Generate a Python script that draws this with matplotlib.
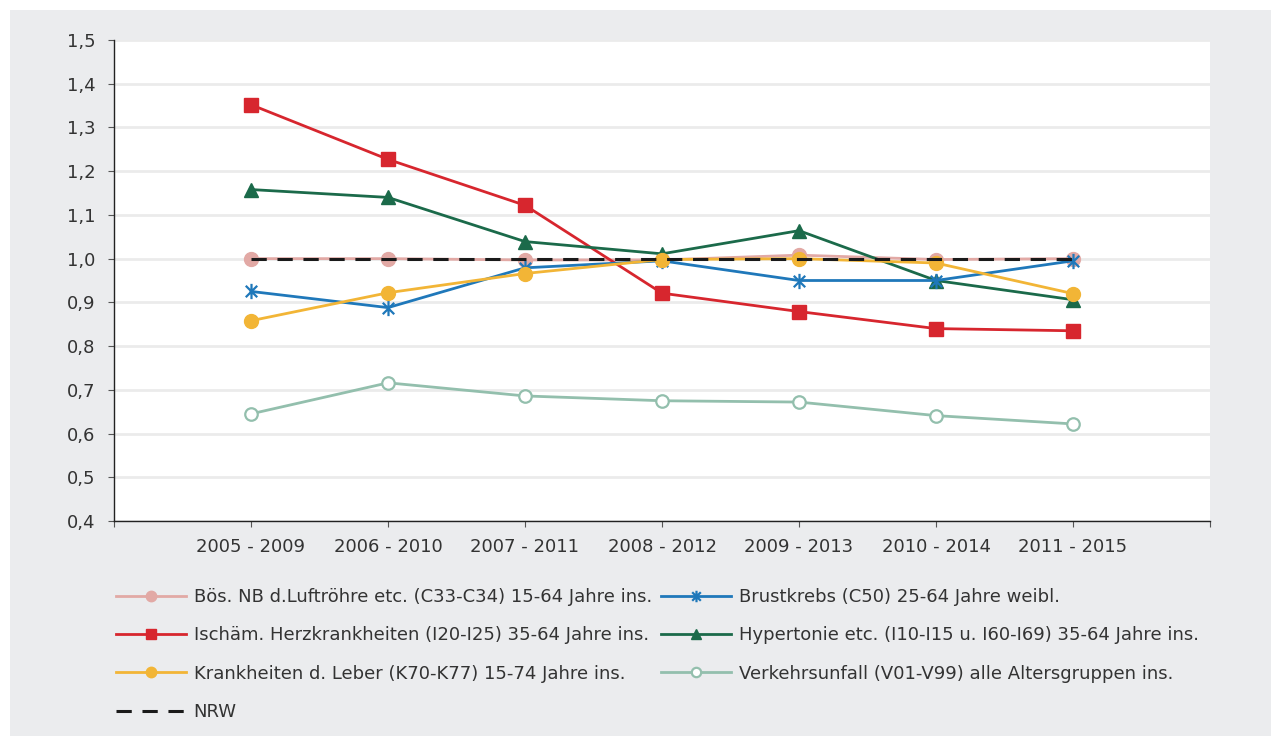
import matplotlib
matplotlib.use("Agg")
import matplotlib.pyplot as plt
from matplotlib.patches import Rectangle
from matplotlib.path import Path
from matplotlib.ticker import FuncFormatter, FixedLocator

# Zeiträume (gleitende 5-Jahres-Mittel)
periods = ["2005 - 2009", "2006 - 2010", "2007 - 2011", "2008 - 2012",
           "2009 - 2013", "2010 - 2014", "2011 - 2015"]

# Verhältnis zum Landeswert NRW (= 1,0)
lunge = [1.000, 1.000, 0.997, 0.997, 1.008, 0.998, 1.000]
brustkrebs = [0.925, 0.888, 0.979, 0.995, 0.950, 0.950, 0.995]
ischaem = [1.352, 1.227, 1.122, 0.921, 0.879, 0.840, 0.835]
hypertonie = [1.158, 1.140, 1.039, 1.011, 1.064, 0.950, 0.906]
leber = [0.858, 0.922, 0.966, 0.998, 1.000, 0.990, 0.920]
verkehr = [0.645, 0.716, 0.686, 0.675, 0.672, 0.641, 0.622]
nrw = [1.0, 1.0, 1.0, 1.0, 1.0, 1.0, 1.0]

labels = {
    "lunge": "Bös. NB d.Luftröhre etc. (C33-C34) 15-64 Jahre ins.",
    "brust": "Brustkrebs (C50) 25-64 Jahre weibl.",
    "isch": "Ischäm. Herzkrankheiten (I20-I25) 35-64 Jahre ins.",
    "hyper": "Hypertonie etc. (I10-I15 u. I60-I69) 35-64 Jahre ins.",
    "leber": "Krankheiten d. Leber (K70-K77) 15-74 Jahre ins.",
    "verkehr": "Verkehrsunfall (V01-V99) alle Altersgruppen ins.",
    "nrw": "NRW",
}

plt.rcParams["font.family"] = ["DejaVu Sans"]
plt.rcParams["font.size"] = 13
TEXT = "#333333"

W, H = 1271, 736
fig = plt.figure(figsize=(W / 100, H / 100), dpi=100, facecolor="white")
fig.patches.append(Rectangle((10 / W, 0), 1 - 10 / W, (H - 10) / H,
                             transform=fig.transFigure, facecolor="#ebecee",
                             edgecolor="none", zorder=-10))

ax = fig.add_axes([114 / W, (H - 521) / H, (1210 - 114) / W, (521 - 40) / H])
ax.set_facecolor("white")

x = list(range(1, len(periods) + 1))

# Sternmarker: senkrechte Linie plus Diagonalkreuz
star = Path([(0, -1), (0, 1), (-0.75, -0.75), (0.75, 0.75), (-0.75, 0.75), (0.75, -0.75)],
            [Path.MOVETO, Path.LINETO, Path.MOVETO, Path.LINETO, Path.MOVETO, Path.LINETO])

lw = 2.0
h_lunge, = ax.plot(x, lunge, color="#e2a9a5", lw=lw, marker="o", ms=10,
                   label=labels["lunge"], zorder=3)
h_isch, = ax.plot(x, ischaem, color="#d7262e", lw=lw, marker="s", ms=10,
                  label=labels["isch"], zorder=4)
h_hyper, = ax.plot(x, hypertonie, color="#1b6a4a", lw=lw, marker="^", ms=10,
                   label=labels["hyper"], zorder=4)
h_brust, = ax.plot(x, brustkrebs, color="#1f78ba", lw=lw, marker=star, ms=11,
                   mew=1.6, label=labels["brust"], zorder=4)
h_leber, = ax.plot(x, leber, color="#f2b536", lw=lw, marker="o", ms=10,
                   label=labels["leber"], zorder=5)
h_verk, = ax.plot(x, verkehr, color="#93bfad", lw=lw, marker="o", ms=9,
                  mfc="white", mew=1.6, label=labels["verkehr"], zorder=4)
h_nrw, = ax.plot(x, nrw, color="#1a1a1a", lw=2.2, ls=(0, (5, 3.5)),
                 label=labels["nrw"], zorder=6)

ax.set_xlim(0, len(periods) + 1)
ax.set_ylim(0.4, 1.5)
ax.xaxis.set_major_locator(FixedLocator(range(0, len(periods) + 2)))
ax.set_xticklabels([""] + periods + [""])
ax.set_yticks([0.4 + 0.1 * i for i in range(12)])
ax.yaxis.set_major_formatter(FuncFormatter(lambda v, p: f"{v:.1f}".replace(".", ",")))

ax.grid(axis="y", color="#ebebeb", lw=2.0, zorder=0)
ax.set_axisbelow(True)
for s in ("top", "right"):
    ax.spines[s].set_visible(False)
for s in ("left", "bottom"):
    ax.spines[s].set_color("#222222")
    ax.spines[s].set_linewidth(1.0)
ax.tick_params(axis="both", colors="#555555", length=4.5, width=0.8,
               labelcolor=TEXT, labelsize=13)
ax.tick_params(axis="y", pad=9)
ax.tick_params(axis="x", pad=8)

handles = [h_lunge, h_isch, h_leber, h_nrw, h_brust, h_hyper, h_verk]
fig.legend(handles=handles, labels=[h.get_label() for h in handles],
           ncol=2, loc="upper left", bbox_to_anchor=(116 / W, (H - 588) / H),
           frameon=False, fontsize=13, handlelength=3.9, handletextpad=0.4,
           columnspacing=0.5, labelspacing=1.13, borderpad=0, borderaxespad=0,
           markerscale=0.75, labelcolor=TEXT)

fig.savefig("out.png", dpi=100, facecolor="white")
